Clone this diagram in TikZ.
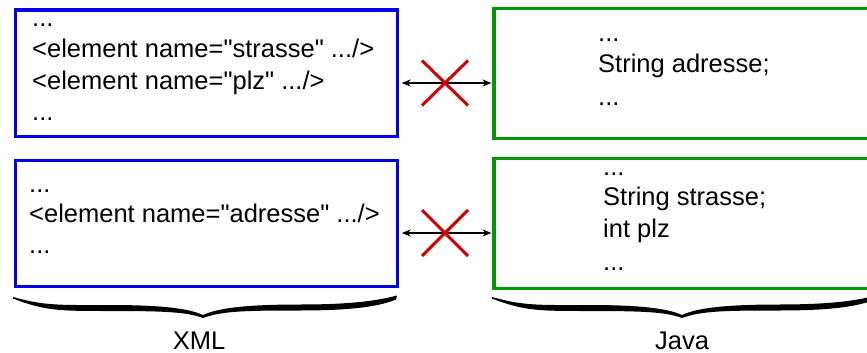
\documentclass[tikz,border=0pt]{standalone}
\usepackage{fontspec}
\setmainfont{Liberation Sans}
\usetikzlibrary{arrows.meta,calc}
\definecolor{xblue}{RGB}{0,0,230}
\definecolor{jgreen}{RGB}{0,153,0}
\definecolor{xred}{RGB}{204,0,0}
\newcommand\dq{\textquotedbl}
\begin{document}
\begin{tikzpicture}[x=1pt,y=-1pt,
  box/.style={draw, line width=3.2pt, inner sep=0pt, minimum width=382.5pt, minimum height=126.5pt, anchor=north west},
  openbox/.style={draw=none, line width=3.2pt, inner sep=0pt, minimum width=380pt, minimum height=126.5pt, anchor=north west},
  txt/.style={anchor=base west, inner sep=0pt, font=\fontsize{25.5}{31}\selectfont},
  lbl/.style={anchor=base, inner sep=0pt, font=\fontsize{25.5}{31}\selectfont},
  link/.style={{Stealth[length=9pt,width=7pt]}-{Stealth[length=9pt,width=7pt]}, line width=1.5pt, shorten <=2.5pt, shorten >=2.5pt},
  cross/.style={draw=xred, line width=3pt},
  curlybrace/.pic={
    \fill[black] (0,297) .. controls (32,306) and (47,305) .. (97,305)
      .. controls (152,305) and (177,309) .. (190,315)
      .. controls (203,309) and (227,304.5) .. (287,304.5)
      .. controls (342,304.5) and (367,300) .. (384,295.5)
      -- (383,299.5)
      .. controls (367,306) and (342,310.5) .. (287,310.5)
      .. controls (232,310.5) and (209,311) .. (190,318)
      .. controls (174,312) and (152,311) .. (97,311)
      .. controls (47,311) and (32,311) .. (0,298.5) -- cycle;
  }
]
\useasboundingbox (0,0) rectangle (867,353);
% XML boxes
\node[box, draw=xblue] (b1) at (13.5,8.5) {};
\node[box, draw=xblue] (b2) at (13.5,158.5) {};
% Java boxes (open to the right)
\node[openbox] (g1) at (494,8.5) {};
\node[openbox] (g2) at (494,158.5) {};
\draw[jgreen, line width=3.2pt] (g1.north east) -- (g1.north west) -- (g1.south west) -- (g1.south east);
\draw[jgreen, line width=3.2pt] (g2.north east) -- (g2.north west) -- (g2.south west) -- (g2.south east);
% texts
\node[txt] (t11) at (32,27) {...};
\node[txt] (t12) at (32,58) {<element name=\dq strasse\dq{} .../>};
\node[txt] (t13) at (32,89.5) {<element name=\dq plz\dq{} .../>};
\node[txt] (t14) at (32,120) {...};
\node[txt] (t21) at (29,192) {...};
\node[txt] (t22) at (29,222) {<element name=\dq adresse\dq{} .../>};
\node[txt] (t23) at (29,253) {...};
\node[txt] (t31) at (598,42) {...};
\node[txt] (t32) at (598,73) {String adresse;};
\node[txt] (t33) at (598,105) {...};
\node[txt] (t41) at (603,175) {...};
\node[txt] (t42) at (603,205) {String strasse;};
\node[txt] (t43) at (603,237) {int plz};
\node[txt] (t44) at (603,270) {...};
% connectors
\coordinate (c1) at (445,83);
\coordinate (c2) at (445,233);
\draw[link] (b1.east |- c1) -- (g1.west |- c1);
\draw[link] (b2.east |- c2) -- (g2.west |- c2);
\draw[cross] ($(c1)+(-23,-22.5)$) -- ($(c1)+(23,22.5)$);
\draw[cross] ($(c1)+(-23,22.5)$) -- ($(c1)+(23,-22.5)$);
\draw[cross] ($(c2)+(-23,-23)$) -- ($(c2)+(23,23)$);
\draw[cross] ($(c2)+(-23,23)$) -- ($(c2)+(23,-23)$);
% braces
\pic at (13,0) {curlybrace};
\pic at (492,0) {curlybrace};
\node[lbl] (xml) at (199,349) {XML};
\node[lbl] (java) at (682,349) {Java};
\end{tikzpicture}
\end{document}
